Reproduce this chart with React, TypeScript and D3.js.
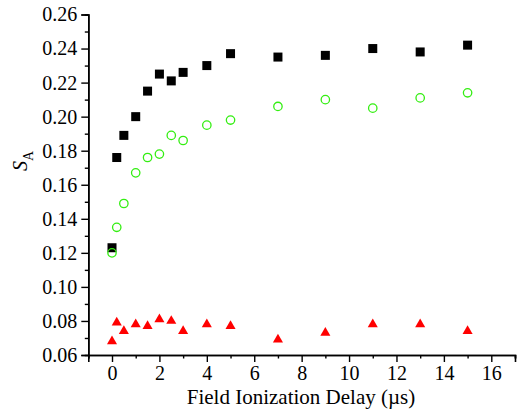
import React, { useEffect, useRef } from "react";
import * as d3 from "d3";

const delays = [0, 0.2, 0.5, 1, 1.5, 2, 2.5, 3, 4, 5, 7, 9, 11, 13, 15];
const blackSquares = [0.123, 0.176, 0.189, 0.2, 0.215, 0.225, 0.221, 0.226, 0.23, 0.237, 0.235, 0.236, 0.24, 0.238, 0.242];
const greenCircles = [0.12, 0.135, 0.149, 0.167, 0.176, 0.178, 0.189, 0.186, 0.195, 0.198, 0.206, 0.21, 0.205, 0.211, 0.214];
const redTriangles = [0.068, 0.079, 0.074, 0.078, 0.077, 0.081, 0.08, 0.074, 0.078, 0.077, 0.069, 0.073, 0.078, 0.078, 0.074];
const xTicks = [0, 2, 4, 6, 8, 10, 12, 14, 16];
const xMinor = [-1, 1, 3, 5, 7, 9, 11, 13, 15, 17];
const yTicks = [0.06, 0.08, 0.1, 0.12, 0.14, 0.16, 0.18, 0.2, 0.22, 0.24, 0.26];
const yMinor = [0.07, 0.09, 0.11, 0.13, 0.15, 0.17, 0.19, 0.21, 0.23, 0.25];

const W = 519;
const H = 415;
const FONT = "Liberation Serif";

const App = () => {
  const ref = useRef<SVGSVGElement>(null);

  useEffect(() => {
    const svg = d3.select(ref.current);
    svg.selectAll("*").remove();

    const x = d3.scaleLinear().domain([-1, 17]).range([88.3, 515]);
    const y = d3.scaleLinear().domain([0.06, 0.26]).range([355, 14.5]);

    const style = (g) => {
      g.attr("font-family", null).attr("font-size", null);
      g.selectAll(".domain").attr("stroke-width", 1.6);
      g.selectAll("line").attr("stroke-width", 1.4);
      g.selectAll("text").style("font-family", FONT).style("font-size", "20px").attr("fill", "#000");
    };

    // x axis: minor ticks in their own group, then major ticks with labels
    svg
      .append("g")
      .attr("transform", `translate(0,${y(0.06)})`)
      .call(d3.axisBottom(x).tickValues(xMinor).tickSize(3.5).tickFormat(() => ""))
      .call(style);
    svg
      .append("g")
      .attr("transform", `translate(0,${y(0.06)})`)
      .call(d3.axisBottom(x).tickValues(xTicks).tickSize(7).tickPadding(4).tickFormat(d3.format("d")))
      .call(style);

    // y axis
    svg
      .append("g")
      .attr("transform", `translate(${x(-1)},0)`)
      .call(d3.axisLeft(y).tickValues(yMinor).tickSize(3.5).tickFormat(() => ""))
      .call(style);
    svg
      .append("g")
      .attr("transform", `translate(${x(-1)},0)`)
      .call(d3.axisLeft(y).tickValues(yTicks).tickSize(7).tickPadding(4).tickFormat(d3.format(".2f")))
      .call(style);

    // black squares
    svg
      .append("g")
      .selectAll("rect")
      .data(delays)
      .join("rect")
      .attr("x", (d) => x(d) - 4.5)
      .attr("y", (d, i) => y(blackSquares[i]) - 4.5)
      .attr("width", 9)
      .attr("height", 9)
      .attr("fill", "#000");

    // green open circles
    svg
      .append("g")
      .selectAll("circle")
      .data(delays)
      .join("circle")
      .attr("cx", (d) => x(d))
      .attr("cy", (d, i) => y(greenCircles[i]))
      .attr("r", 4.2)
      .attr("fill", "none")
      .attr("stroke", "#33ee11")
      .attr("stroke-width", 1.3);

    // red triangles
    const tri = d3.symbol().type(d3.symbolTriangle).size(44);
    svg
      .append("g")
      .selectAll("path")
      .data(delays)
      .join("path")
      .attr("d", tri)
      .attr("transform", (d, i) => `translate(${x(d)},${y(redTriangles[i])})`)
      .attr("fill", "#ff0000");

    // axis titles
    svg
      .append("text")
      .attr("x", 301)
      .attr("y", 404)
      .attr("text-anchor", "middle")
      .style("font-family", FONT)
      .style("font-size", "21px")
      .text("Field Ionization Delay (\u00b5s)");

    const yt = svg
      .append("text")
      .attr("transform", "translate(27,161) rotate(-90)")
      .attr("text-anchor", "middle")
      .style("font-family", FONT)
      .style("font-size", "20px");
    yt.append("tspan").style("font-style", "italic").text("S");
    yt.append("tspan").style("font-size", "14px").attr("dy", 6).text("A");
  }, []);

  return (
    <svg
      ref={ref}
      width={W}
      height={H}
      style={{ position: "absolute", left: 0, top: 0, background: "#fff" }}
    />
  );
};

export default App;
